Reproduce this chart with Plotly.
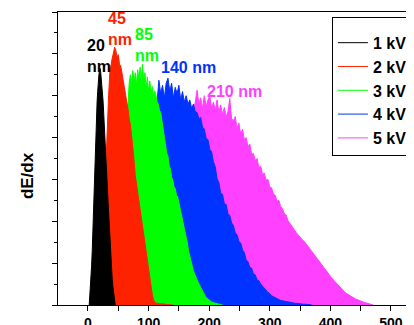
import plotly.graph_objects as go

# ---------------- data ----------------
depth_labels = ["20<br>nm", "45<br>nm", "85<br>nm", "140 nm", "210 nm"]
series_names = ["1 kV", "2 kV", "3 kV", "4 kV", "5 kV"]
x_ticks = [0, 100, 200, 300, 400, 500]

# 1 kV, bins from 2 nm, step 1 nm
kv1_start, kv1_step = 2, 1
kv1 = [0, 0.2, 0.45, 0.7, 0.95, 1.3, 1.8, 2.4, 2.9, 3.45, 3.9, 4.25, 4.6, 4.85,
       5.1, 5.45, 5.5, 5.6, 5.65, 5.55, 5.4, 5.2, 5.0, 4.85, 4.55, 4.3, 4.06,
       3.8, 3.45, 3.1, 2.8, 2.5, 2.2, 1.85, 1.5, 1.2, 0.95, 0.78, 0.6, 0.45,
       0.3, 0.18, 0.08, 0]

# 2 kV, bins from 20 nm, step 2 nm
kv2_start, kv2_step = 20, 2
kv2 = [0, 0.2, 0.6, 1.3, 2.3, 3.5, 4.45, 5.0, 5.55, 5.75, 5.9, 6.02, 6.16,
       6.08, 5.92, 5.98, 5.75, 5.72, 5.55, 5.45, 5.2, 5.1, 4.85, 4.68, 4.45,
       4.3, 4.05, 3.8, 3.45, 3.1, 2.9, 2.7, 2.5, 2.3, 2.1, 1.88, 1.65, 1.45,
       1.22, 1.0, 0.8, 0.6, 0.42, 0.26, 0.14, 0.07, 0.05, 0.04, 0.04, 0.03,
       0.03, 0.03, 0.02, 0.02, 0.02, 0.01, 0.01, 0.01, 0.01, 0.01, 0]

# 3 kV, bins from 46 nm, step 2 nm
kv3_start, kv3_step = 46, 2
kv3 = [0, 0.4, 0.8, 1.3, 1.8, 2.35, 2.9, 3.4, 3.9, 4.35, 4.8, 5.3, 5.5, 5.25,
       5.6, 5.35, 5.55, 5.25, 5.62, 5.4, 5.68, 5.3, 5.75, 5.35, 5.55, 5.15,
       5.45, 5.1, 5.35, 5.05, 5.22, 4.98, 5.12, 5.02, 4.85, 4.8, 4.65, 4.6,
       4.38, 4.25, 3.98, 3.85, 3.62, 3.55, 3.32, 3.25, 3.05, 2.98, 2.82, 2.78,
       2.62, 2.58, 2.44, 2.36, 2.18, 2.08, 1.88, 1.78, 1.58, 1.48, 1.28, 1.16,
       1.0, 0.92, 0.82, 0.74, 0.66, 0.6, 0.54, 0.48, 0.42, 0.36, 0.3, 0.25,
       0.2, 0.17, 0.14, 0.11, 0.09, 0.07, 0.06, 0.05, 0.04, 0.03, 0.03, 0.02,
       0.02, 0.01, 0]

# 4 kV, bins from 60 nm, step 3 nm
kv4_start, kv4_step = 60, 3
kv4 = [0, 0.2, 0.4, 0.6, 0.8, 1.0, 1.2, 1.45, 1.7, 1.95, 2.2, 2.5, 2.8, 3.1,
       3.45, 3.8, 4.15, 4.5, 4.85, 5.37, 5.05, 5.25, 4.95, 5.3, 5.42, 5.1,
       5.3, 4.95, 5.2, 5.05, 5.25, 4.9, 5.1, 4.85, 5.0, 4.8, 4.9, 4.7, 4.8,
       4.62, 4.6, 4.45, 4.48, 4.25, 4.2, 3.98, 3.95, 3.72, 3.66, 3.42, 3.3,
       3.02, 2.92, 2.67, 2.64, 2.42, 2.4, 2.18, 2.14, 1.96, 1.9, 1.72, 1.68,
       1.52, 1.48, 1.32, 1.25, 1.08, 1.03, 0.9, 0.88, 0.74, 0.72, 0.6, 0.58,
       0.5, 0.45, 0.38, 0.35, 0.3, 0.27, 0.22, 0.2, 0.17, 0.15, 0.13, 0.11,
       0.1, 0.09, 0.08, 0.07, 0.06, 0.05, 0.05, 0.04, 0.04, 0.03, 0.03, 0.02,
       0.02, 0.02, 0.01, 0.01, 0]

# 5 kV, bins from 90 nm, step 3 nm
kv5_start, kv5_step = 90, 3
kv5 = [0, 0.12, 0.25, 0.38, 0.5, 0.62, 0.78, 0.92, 1.08, 1.22, 1.38, 1.55,
       1.72, 1.9, 2.08, 2.25, 2.42, 2.6, 2.78, 2.95, 3.12, 3.3, 3.48, 3.65,
       3.82, 4.0, 4.2, 4.4, 4.62, 4.85, 5.13, 4.8, 4.95, 4.7, 5.0, 4.75, 4.9,
       5.0, 4.7, 4.85, 4.65, 4.9, 4.6, 4.78, 4.55, 4.72, 4.5, 4.62, 4.93,
       4.45, 4.4, 4.5, 4.22, 4.35, 4.08, 4.2, 3.95, 4.0, 3.78, 3.85, 3.6,
       3.62, 3.45, 3.5, 3.28, 3.32, 3.12, 3.15, 2.98, 3.0, 2.82, 2.8, 2.65,
       2.62, 2.48, 2.5, 2.35, 2.3, 2.18, 2.15, 2.02, 1.95, 1.9, 1.82, 1.76,
       1.7, 1.66, 1.6, 1.55, 1.52, 1.46, 1.42, 1.36, 1.3, 1.24, 1.17, 1.1,
       1.05, 0.98, 0.93, 0.87, 0.82, 0.76, 0.71, 0.65, 0.6, 0.55, 0.5, 0.45,
       0.4, 0.36, 0.32, 0.28, 0.25, 0.22, 0.19, 0.17, 0.15, 0.13, 0.11, 0.09,
       0.08, 0.06, 0.05, 0.04, 0.03, 0.02, 0]

# label anchor positions (data coordinates)
label_x = [-5, 29.7, 74, 117, 193]
label_y = [5.94, 6.6, 6.2, 5.68, 5.1]

colors = ["#000000", "#FF2200", "#00FF00", "#0033FF", "#FF40FF"]

series = [
    (kv1_start, kv1_step, kv1),
    (kv2_start, kv2_step, kv2),
    (kv3_start, kv3_step, kv3),
    (kv4_start, kv4_step, kv4),
    (kv5_start, kv5_step, kv5),
]

FONT = "Liberation Sans, Arial, sans-serif"

fig = go.Figure()

# filled profiles, back (5 kV) to front (1 kV)
for i in reversed(range(5)):
    start, step, vals = series[i]
    xs = [start + step * k for k in range(len(vals))]
    fig.add_trace(go.Scatter(
        x=xs, y=vals, mode="lines", fill="tozeroy",
        fillcolor=colors[i], line=dict(color=colors[i], width=1),
        showlegend=False, hoverinfo="skip"))

# legend entries (lines only)
for i in range(5):
    fig.add_trace(go.Scatter(
        x=[None], y=[None], mode="lines", name=series_names[i],
        line=dict(color=colors[i], width=1)))

annotations = []
for i in range(5):
    annotations.append(dict(
        x=label_x[i], y=label_y[i], xref="x", yref="y",
        text="<b>" + depth_labels[i] + "</b>", showarrow=False,
        xanchor="left", yanchor="middle", align="left",
        font=dict(family=FONT, size=16, color=colors[i])))
annotations.append(dict(
    x=-0.087, y=0.44, xref="paper", yref="paper", text="<b>dE/dx</b>",
    textangle=-90, showarrow=False, xanchor="center", yanchor="middle",
    font=dict(family=FONT, size=17, color="black")))

# the page body adds an 8 px offset; margins compensate for it
fig.update_layout(
    width=414, height=325,
    margin=dict(l=50, r=8, t=4, b=28),
    paper_bgcolor="white", plot_bgcolor="white",
    font=dict(family=FONT, color="black"),
    annotations=annotations,
    legend=dict(
        x=0.997, y=0.983, xanchor="right", yanchor="top",
        bgcolor="white", bordercolor="black", borderwidth=1,
        font=dict(family=FONT, size=16, color="black", weight="bold"),
        title=dict(text=" ", font=dict(size=6)),
        tracegroupgap=0),
)

fig.update_xaxes(
    range=[-49.5, 538], showgrid=False, zeroline=False,
    showline=True, linecolor="black", linewidth=1, mirror=True,
    ticks="outside", ticklen=5, tickcolor="black", tickwidth=1,
    tickvals=x_ticks, ticktext=[str(v) for v in x_ticks],
    tickfont=dict(family=FONT, size=14, color="black", weight="bold"),
    minor=dict(dtick=50, tick0=0, ticks="outside", ticklen=5,
               tickcolor="black", tickwidth=1),
    automargin=False)

fig.update_yaxes(
    range=[0, 7], showgrid=False, zeroline=False,
    showline=True, linecolor="black", linewidth=1, mirror=False,
    ticks="outside", ticklen=5, tickcolor="black", tickwidth=1,
    dtick=1, tick0=0, showticklabels=False,
    minor=dict(dtick=0.5, tick0=0, ticks="outside", ticklen=3,
               tickcolor="black", tickwidth=1),
    automargin=False)

fig.write_html("out.html")
